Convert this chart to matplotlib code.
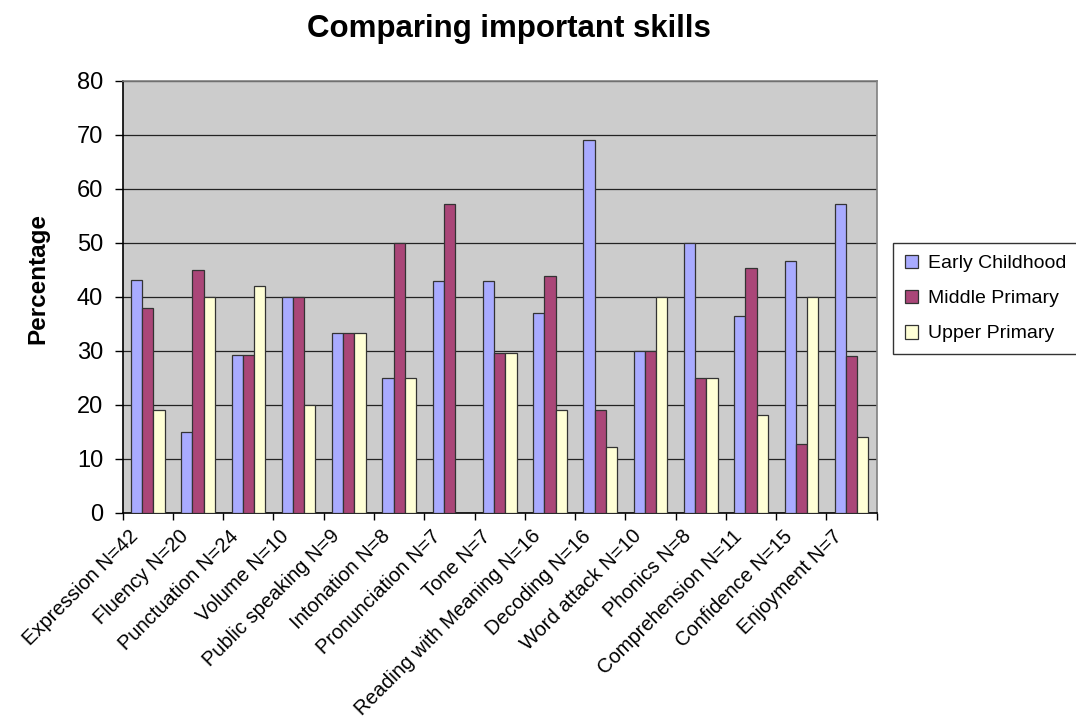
import numpy as np
import matplotlib
matplotlib.use('Agg')
import matplotlib.pyplot as plt
from matplotlib.patches import Patch
from matplotlib.transforms import ScaledTranslation

plt.rcParams['font.family'] = ['Liberation Sans', 'DejaVu Sans']

skills = ['Expression N=42', 'Fluency N=20', 'Punctuation N=24', 'Volume N=10',
          'Public speaking N=9', 'Intonation N=8', 'Pronunciation N=7', 'Tone N=7',
          'Reading with Meaning N=16', 'Decoding N=16', 'Word attack N=10',
          'Phonics N=8', 'Comprehension N=11', 'Confidence N=15', 'Enjoyment N=7']

early = [43.1, 15.0, 29.2, 40.0, 33.3, 25.0, 42.9, 42.9, 36.9, 69.0, 30.0, 50.0, 36.4, 46.7, 57.1]
middle = [38.0, 45.0, 29.2, 40.0, 33.3, 50.0, 57.1, 29.5, 43.9, 19.1, 30.0, 25.0, 45.4, 12.8, 29.1]
upper = [19.1, 40.0, 42.0, 20.0, 33.3, 25.0, 0.0, 29.5, 19.1, 12.1, 40.0, 25.0, 18.0, 40.0, 14.0]

series = ['Early Childhood', 'Middle Primary', 'Upper Primary']
colors = ['#A9ABFF', '#AA4678', '#FFFFD6']

fig = plt.figure(figsize=(10.76, 7.22), dpi=100)
ax = fig.add_axes([0.1140, 0.2899, 0.7008, 0.5983])
ax.set_facecolor('#CCCCCC')

x = np.arange(len(skills))
w = 0.223
for vals, off, c in zip([early, middle, upper], [-w, 0, w], colors):
    ax.bar(x + off, vals, w, color=c, edgecolor='#333333', linewidth=0.9, zorder=3)

ax.set_ylim(0, 80)
ax.set_xlim(-0.5, len(skills) - 0.5)
ax.set_yticks(np.arange(0, 81, 10))
ax.yaxis.grid(True, color='#222222', linewidth=0.9, zorder=1)
ax.set_axisbelow(True)
ax.tick_params(axis='y', labelsize=17, length=6, width=1, direction='out', pad=8)

# labels sit at category centres, tick marks at the category boundaries
ax.set_xticks(x)
ax.set_xticklabels(skills, rotation=45, ha='right', va='top', rotation_mode='anchor', fontsize=14.5)
ax.set_xticks(np.arange(-0.5, len(skills)), minor=True)
ax.tick_params(axis='x', which='major', length=0, pad=10)
ax.tick_params(axis='x', which='minor', length=5, width=1, direction='out')
shift = ScaledTranslation(-0.19, 0, fig.dpi_scale_trans)
for lab in ax.get_xticklabels():
    lab.set_transform(lab.get_transform() + shift)

for side in ['left', 'bottom']:
    ax.spines[side].set_color('black')
    ax.spines[side].set_linewidth(1.2)
for side in ['top', 'right']:
    ax.spines[side].set_color('#808080')
    ax.spines[side].set_linewidth(1.2)

fig.text(509 / 1076, 1 - 36.7 / 722, 'Comparing important skills', ha='center', va='baseline',
         fontsize=22.5, fontweight='bold')
fig.text(38 / 1076, 1 - 279 / 722, 'Percentage', rotation=90, ha='center', va='center',
         fontsize=17.5, fontweight='bold')

handles = [Patch(facecolor=c, edgecolor='#333333', linewidth=0.9) for c in colors]
leg = fig.legend(handles, series, loc='upper left', bbox_to_anchor=(893 / 1076, 1 - 243 / 722),
                 fontsize=14, frameon=True, fancybox=False, edgecolor='black',
                 handlelength=0.7, handleheight=0.7, handletextpad=0.5, labelspacing=0.9,
                 borderpad=0.6, borderaxespad=0)
leg.get_frame().set_linewidth(1.0)

plt.savefig('out.png', dpi=100)
